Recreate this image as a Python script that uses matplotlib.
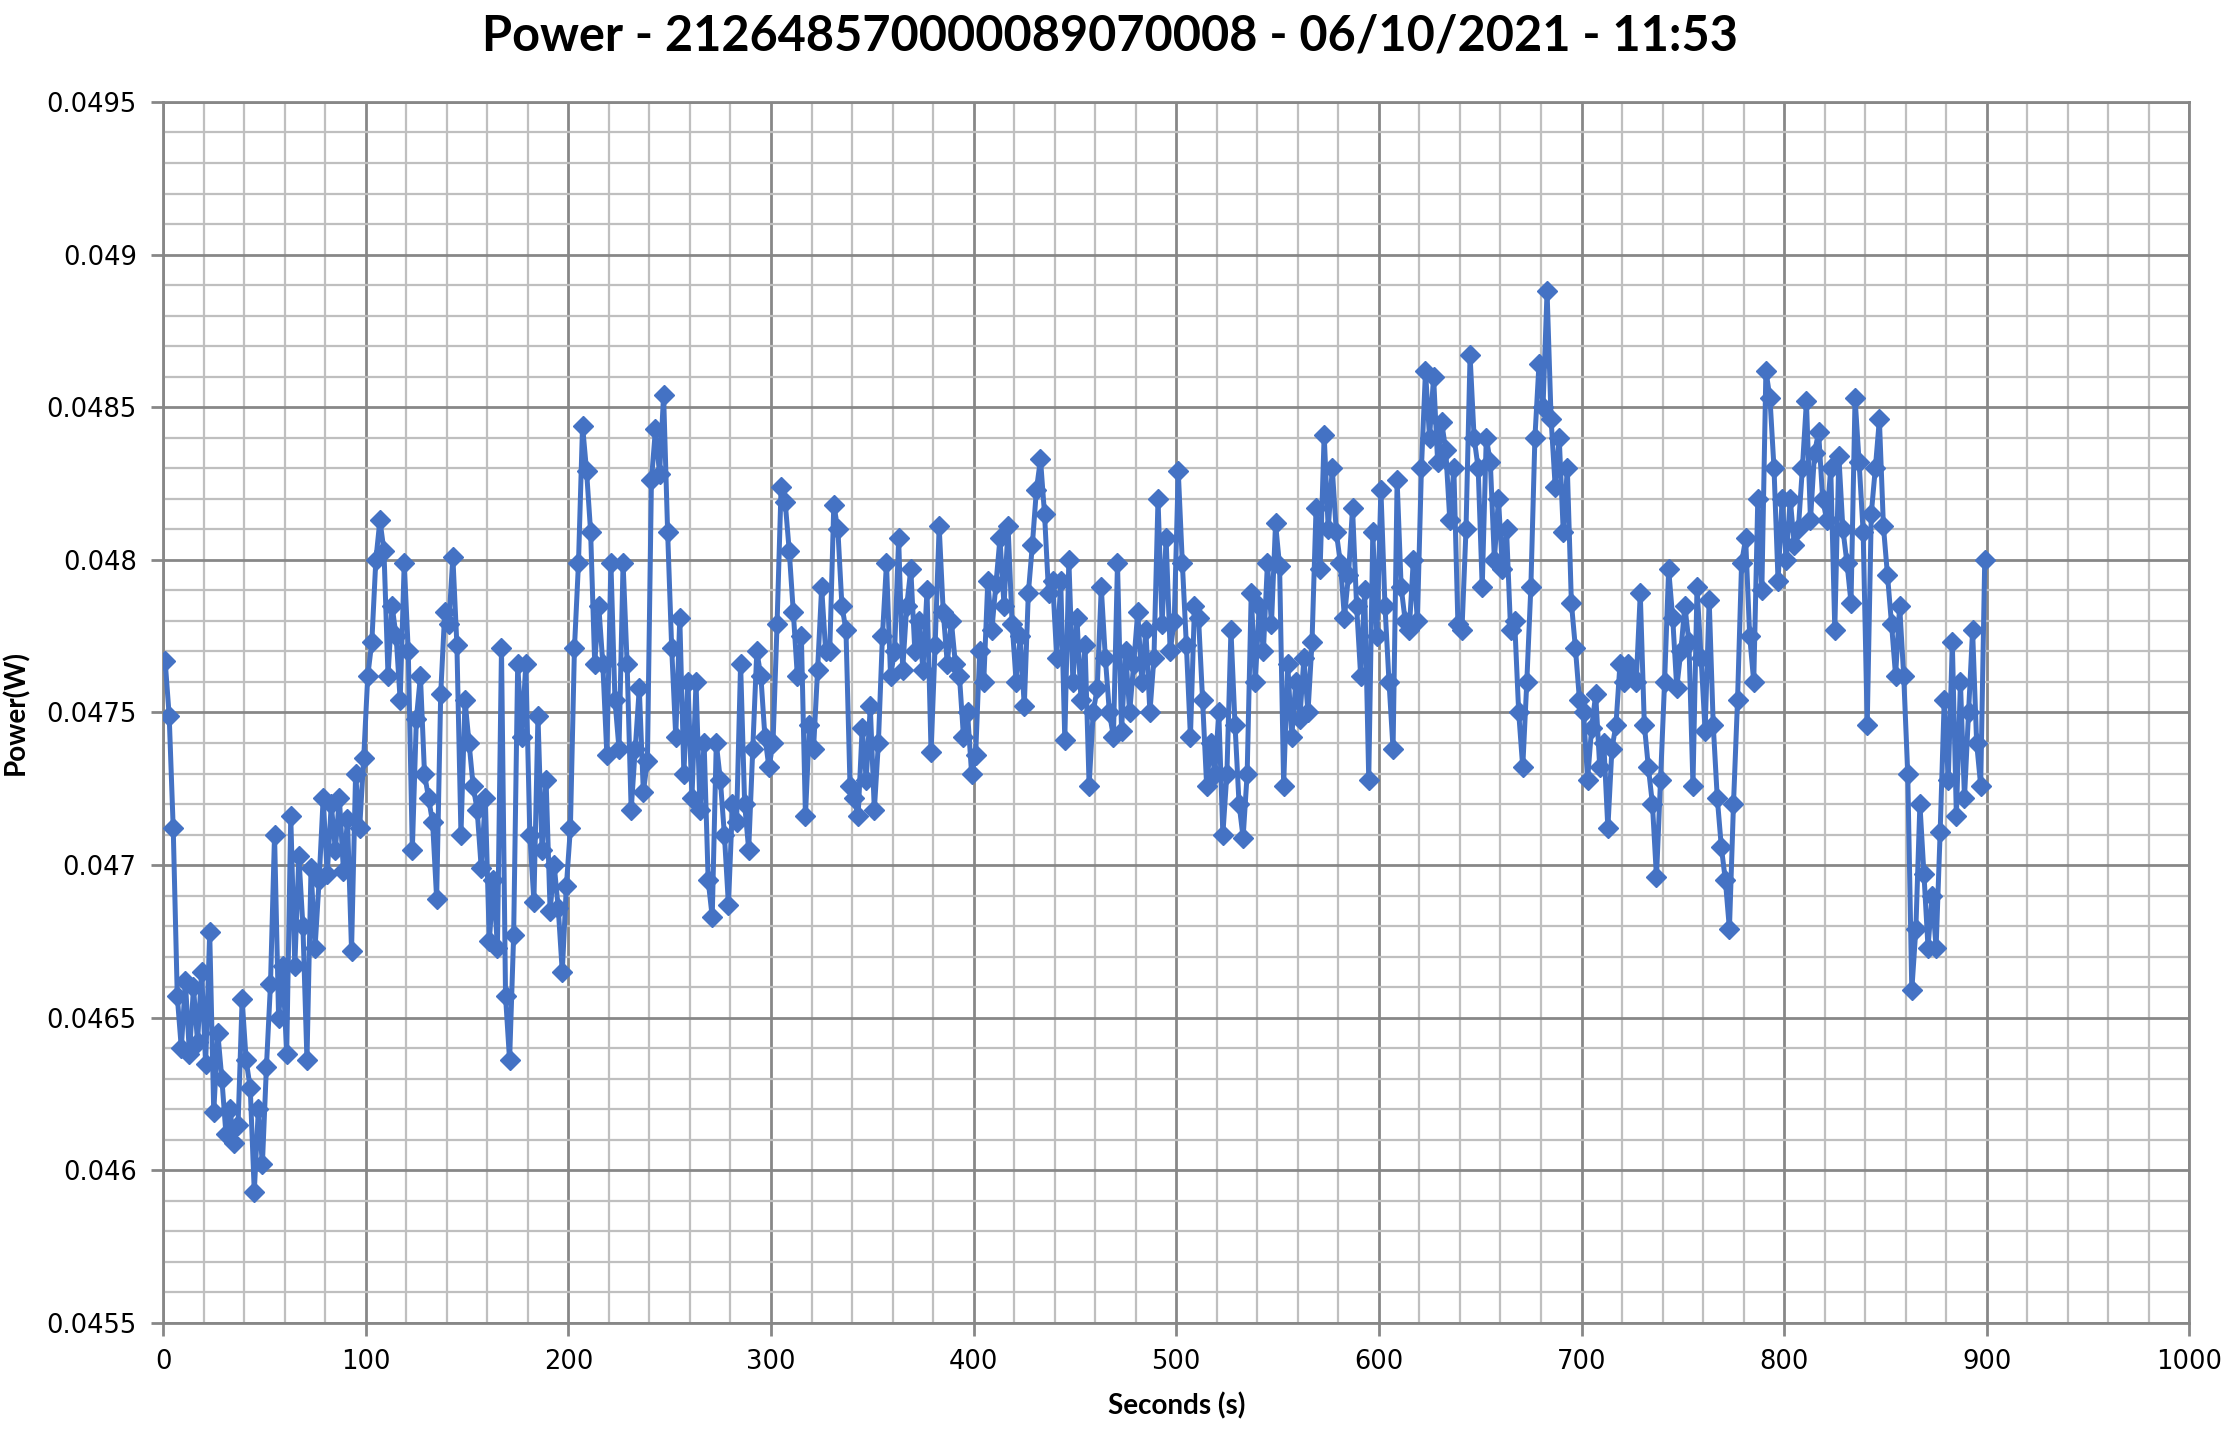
import numpy as np
import matplotlib
matplotlib.use('Agg')
import matplotlib.pyplot as plt
from matplotlib.ticker import MultipleLocator, FuncFormatter

# power readings in mW, one value every 2 s starting at t = 1 s
power_mw = [
    47.67, 47.49, 47.12, 46.57, 46.40, 46.62, 46.38, 46.60, 46.42, 46.65,
    46.35, 46.78, 46.19, 46.45, 46.30, 46.12, 46.20, 46.09, 46.15, 46.56,
    46.36, 46.27, 45.93, 46.20, 46.02, 46.34, 46.61, 47.10, 46.50, 46.67,
    46.38, 47.16, 46.67, 47.03, 46.80, 46.36, 46.99, 46.73, 46.95, 47.22,
    46.97, 47.20, 47.05, 47.22, 46.98, 47.15, 46.72, 47.30, 47.12, 47.35,
    47.62, 47.73, 48.00, 48.13, 48.03, 47.62, 47.85, 47.75, 47.54, 47.99,
    47.70, 47.05, 47.48, 47.62, 47.30, 47.22, 47.14, 46.89, 47.56, 47.83,
    47.79, 48.01, 47.72, 47.10, 47.54, 47.40, 47.26, 47.18, 46.99, 47.22,
    46.75, 46.95, 46.73, 47.71, 46.57, 46.36, 46.77, 47.66, 47.42, 47.66,
    47.10, 46.88, 47.49, 47.05, 47.28, 46.85, 47.00, 46.86, 46.65, 46.93,
    47.12, 47.71, 47.99, 48.44, 48.29, 48.09, 47.66, 47.85, 47.66, 47.36,
    47.99, 47.54, 47.38, 47.99, 47.66, 47.18, 47.38, 47.58, 47.24, 47.34,
    48.26, 48.43, 48.28, 48.54, 48.09, 47.71, 47.42, 47.81, 47.30, 47.60,
    47.22, 47.60, 47.18, 47.40, 46.95, 46.83, 47.40, 47.28, 47.10, 46.87,
    47.20, 47.14, 47.66, 47.20, 47.05, 47.38, 47.70, 47.62, 47.42, 47.32,
    47.40, 47.79, 48.24, 48.19, 48.03, 47.83, 47.62, 47.75, 47.16, 47.46,
    47.38, 47.64, 47.91, 47.70, 47.70, 48.18, 48.10, 47.85, 47.77, 47.26,
    47.22, 47.16, 47.45, 47.28, 47.52, 47.18, 47.40, 47.75, 47.99, 47.62,
    47.70, 48.07, 47.64, 47.85, 47.97, 47.70, 47.80, 47.64, 47.90, 47.37,
    47.72, 48.11, 47.83, 47.66, 47.80, 47.66, 47.62, 47.42, 47.50, 47.30,
    47.36, 47.70, 47.60, 47.93, 47.77, 47.92, 48.07, 47.85, 48.11, 47.79,
    47.60, 47.75, 47.52, 47.89, 48.05, 48.23, 48.33, 48.15, 47.89, 47.93,
    47.68, 47.93, 47.41, 48.00, 47.60, 47.81, 47.54, 47.72, 47.26, 47.50,
    47.58, 47.91, 47.68, 47.50, 47.42, 47.99, 47.44, 47.70, 47.50, 47.66,
    47.83, 47.60, 47.77, 47.50, 47.68, 48.20, 47.79, 48.07, 47.70, 47.80,
    48.29, 47.99, 47.72, 47.42, 47.85, 47.81, 47.54, 47.26, 47.40, 47.30,
    47.50, 47.10, 47.30, 47.77, 47.46, 47.20, 47.09, 47.30, 47.89, 47.60,
    47.85, 47.70, 47.99, 47.79, 48.12, 47.98, 47.26, 47.66, 47.42, 47.60,
    47.48, 47.68, 47.50, 47.73, 48.17, 47.97, 48.41, 48.10, 48.30, 48.09,
    47.99, 47.81, 47.95, 48.17, 47.85, 47.62, 47.90, 47.28, 48.09, 47.75,
    48.23, 47.85, 47.60, 47.38, 48.26, 47.91, 47.80, 47.77, 48.00, 47.80,
    48.30, 48.62, 48.40, 48.60, 48.32, 48.45, 48.36, 48.13, 48.30, 47.79,
    47.77, 48.10, 48.67, 48.40, 48.30, 47.91, 48.40, 48.32, 48.00, 48.20,
    47.97, 48.10, 47.77, 47.80, 47.50, 47.32, 47.60, 47.91, 48.40, 48.64,
    48.50, 48.88, 48.46, 48.24, 48.40, 48.09, 48.30, 47.86, 47.71, 47.54,
    47.50, 47.28, 47.45, 47.56, 47.32, 47.40, 47.12, 47.38, 47.46, 47.66,
    47.60, 47.66, 47.62, 47.60, 47.89, 47.46, 47.32, 47.20, 46.96, 47.28,
    47.60, 47.97, 47.81, 47.58, 47.70, 47.85, 47.73, 47.26, 47.91, 47.68,
    47.44, 47.87, 47.46, 47.22, 47.06, 46.95, 46.79, 47.20, 47.54, 47.99,
    48.07, 47.75, 47.60, 48.20, 47.90, 48.62, 48.53, 48.30, 47.93, 48.20,
    48.00, 48.20, 48.05, 48.10, 48.30, 48.52, 48.13, 48.35, 48.42, 48.20,
    48.13, 48.30, 47.77, 48.34, 48.10, 47.99, 47.86, 48.53, 48.32, 48.09,
    47.46, 48.15, 48.30, 48.46, 48.11, 47.95, 47.79, 47.62, 47.85, 47.62,
    47.30, 46.59, 46.79, 47.20, 46.97, 46.73, 46.90, 46.73, 47.11, 47.54,
    47.28, 47.73, 47.16, 47.60, 47.22, 47.50, 47.77, 47.40, 47.26, 48.00,
]
seconds = np.arange(1, 2 * len(power_mw), 2)
power_w = np.array(power_mw) / 1000.0

title = 'Power - 212648570000089070008 - 06/10/2021 - 11:53'
yticks = [0.0455, 0.046, 0.0465, 0.047, 0.0475, 0.048, 0.0485, 0.049, 0.0495]
xticks = [0, 100, 200, 300, 400, 500, 600, 700, 800, 900, 1000]

fig = plt.figure(figsize=(22.25, 14.32), dpi=100)
ax = fig.add_axes([0.0733, 0.0761, 0.9107, 0.8527])

ax.plot(seconds, power_w, color='#4472C4', lw=3.6, marker='D', ms=10,
        mec='#4472C4', mfc='#4472C4', zorder=3)

ax.set_xlim(0, 1000)
ax.set_ylim(0.0455, 0.0495)
ax.set_xticks(xticks)
ax.set_yticks(yticks)
ax.xaxis.set_minor_locator(MultipleLocator(20))
ax.yaxis.set_minor_locator(MultipleLocator(0.0001))
ax.yaxis.set_major_formatter(FuncFormatter(lambda v, p: '%g' % round(v, 6)))

ax.grid(which='major', color='#878787', lw=2.0, zorder=0)
ax.grid(which='minor', color='#bfbfbf', lw=1.6, zorder=0)
ax.set_axisbelow(True)
for s in ax.spines.values():
    s.set_color('#878787')
    s.set_linewidth(2.0)

ax.tick_params(which='major', length=9, width=2, color='#878787',
               labelsize=18.5, pad=10)
ax.tick_params(which='minor', length=0)
for lab in ax.get_xticklabels() + ax.get_yticklabels():
    lab.set_family('DejaVu Sans')

ax.set_xlabel('Seconds (s)', fontsize=20, fontweight='bold', family='Lato', labelpad=12)
ax.set_ylabel('Power(W)', fontsize=20, fontweight='bold', family='Lato', labelpad=12)

fig.text(0.499, 0.975, title, ha='center', va='center', fontsize=35,
         fontweight='bold', family='Lato')

fig.savefig('out.png', dpi=100)
